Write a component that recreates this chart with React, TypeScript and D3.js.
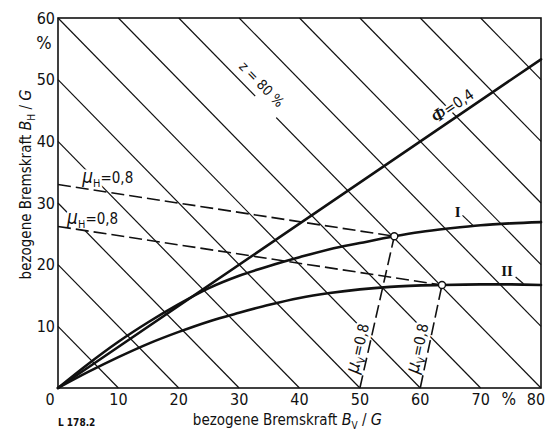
import React from 'react';
import * as d3 from 'd3';

const WIDTH = 550;
const HEIGHT = 432;
const M = { top: 18, right: 9, bottom: 44, left: 58 };

const FONT = '"Liberation Sans Narrow", "DejaVu Sans Condensed", "Roboto Condensed", "DejaVu Sans", sans-serif';
const SERIF = '"Liberation Serif", "DejaVu Serif", serif';

// axis ticks
const xTicks = [0, 10, 20, 30, 40, 50, 60, 70, 80];
const yTicks = [10, 20, 30, 40, 50, 60];
// lines of constant braking ratio z = (B_V + B_H) / G in %
const zLines = [10, 20, 30, 40, 50, 60, 70, 80, 90, 100, 110, 120, 130];

// installed distribution, Phi = 0.4
const phiX = [0, 80];
const phiY = [0, 53.3];

// ideal distribution, curve I
const curveIX = [0, 5, 10, 15, 20, 25, 30, 35, 40, 45, 50, 55.7, 60, 65, 70, 75, 80];
const curveIY = [0, 3.9, 7.5, 10.7, 13.6, 16.2, 18.2, 19.8, 21.2, 22.5, 23.5, 24.6, 25.3, 25.9, 26.4, 26.7, 26.9];
// ideal distribution, curve II
const curveIIX = [0, 5, 10, 15, 20, 25, 30, 35, 40, 45, 50, 55, 63.6, 70, 75, 80];
const curveIIY = [0, 2.6, 5.0, 7.2, 9.1, 10.8, 12.2, 13.5, 14.6, 15.4, 16.0, 16.4, 16.7, 16.8, 16.8, 16.7];

// mu = 0.8 construction
const muPointX = [55.7, 63.6];
const muPointY = [24.6, 16.7];
const muHStartY = [33.0, 26.2]; // where the mu_H lines leave the B_H axis
const muVStartX = [50, 60]; // where the mu_V lines leave the B_V axis

// label anchors (data units)
const muHLabelX = [4.0, 1.5];
const muHLabelY = [33.3, 26.6];
const romanLabels = ['I', 'II'];
const romanX = [65.7, 73.4];
const romanY = [27.7, 18.2];
const romanLeadFrom = [[67.0, 28.0], [75.8, 18.0]];
const romanLeadTo = [[68.9, 26.2], [77.1, 16.9]];

export default function App() {
  const x = d3.scaleLinear().domain([0, 80]).range([M.left, WIDTH - M.right]);
  const y = d3.scaleLinear().domain([0, 60]).range([HEIGHT - M.bottom, M.top]);
  const deg = (x1: number, y1: number, x2: number, y2: number) =>
    (Math.atan2(y(y2) - y(y1), x(x2) - x(x1)) * 180) / Math.PI;

  const line = d3
    .line<[number, number]>()
    .x((d) => x(d[0]))
    .y((d) => y(d[1]))
    .curve(d3.curveMonotoneX);
  const pathI = line(curveIX.map((v, i) => [v, curveIY[i]]));
  const pathII = line(curveIIX.map((v, i) => [v, curveIIY[i]]));
  const pathPhi = line(phiX.map((v, i) => [v, phiY[i]]));

  // z = const grid lines clipped to the frame
  const diag = zLines.map((c) => {
    const xa = Math.max(0, c - 60);
    const xb = Math.min(80, c);
    return { c, x1: x(xa), y1: y(c - xa), x2: x(xb), y2: y(c - xb) };
  });

  const phiAngle = deg(0, 0, phiX[1], phiY[1]);
  const zAngle = deg(20, 60, 80, 0);
  const zAnchorX = 32.2;
  const phiAnchorX = 63.2;

  const halo = { stroke: '#fff', strokeWidth: 5, paintOrder: 'stroke' as const, strokeLinejoin: 'round' as const };

  return (
    <svg width={WIDTH} height={HEIGHT} style={{ position: 'absolute', left: 0, top: 0, background: '#fff' }}>
      <rect width={WIDTH} height={HEIGHT} fill="#fff" />

      {/* z grid */}
      <g stroke="#111" strokeWidth={1.2}>
        {diag.map((d) => (
          <line key={d.c} x1={d.x1} y1={d.y1} x2={d.x2} y2={d.y2} />
        ))}
      </g>

      {/* labels on the grid, with white halo cutting the grid lines */}
      <g fontFamily={FONT} fill="#111">
        <g transform={`translate(${x(zAnchorX)},${y(80 - zAnchorX)}) rotate(${zAngle})`}>
          <rect x={4} y={-3} width={30} height={6} fill="#fff" />
          <text x={0} y={-8} fontSize={14} textAnchor="middle" {...halo}>
            z = 80 %
          </text>
        </g>
        {muHLabelX.map((lx, i) => (
          <text key={'mh' + i} x={x(lx)} y={y(muHLabelY[i])} fontSize={15} {...halo}>
            <tspan fontStyle="italic" fontSize={19}>μ</tspan>
            <tspan fontSize={11} dy={4}>H</tspan>
            <tspan dy={-4}>=0,8</tspan>
          </text>
        ))}
        {muVStartX.map((sx, i) => {
          const x0 = x(sx), y0 = y(0);
          const x1 = x(muPointX[i]), y1 = y(muPointY[i]);
          const len = Math.hypot(x1 - x0, y1 - y0);
          const ux = (x1 - x0) / len, uy = (y1 - y0) / len;
          const a = deg(sx, 0, muPointX[i], muPointY[i]);
          return (
            <text
              key={'mv' + i}
              transform={`translate(${x0 + ux * 13},${y0 + uy * 13}) rotate(${a})`}
              x={0}
              y={-5}
              fontSize={15}
              {...halo}
            >
              <tspan fontStyle="italic" fontSize={19}>μ</tspan>
              <tspan fontSize={11} dy={4}>V</tspan>
              <tspan dy={-4}>=0,8</tspan>
            </text>
          );
        })}
        <text
          transform={`translate(${x(phiAnchorX)},${y((phiAnchorX * phiY[1]) / phiX[1])}) rotate(${phiAngle})`}
          x={0}
          y={-6}
          fontSize={15}
          {...halo}
        >
          <tspan fontStyle="italic" fontWeight="bold" fontFamily={SERIF} fontSize={18}>Φ</tspan>
          <tspan>=0,4</tspan>
        </text>
        {romanLabels.map((t, i) => (
          <g key={t}>
            <text x={x(romanX[i])} y={y(romanY[i])} fontFamily={SERIF} fontSize={15} fontWeight="bold" {...halo}>
              {t}
            </text>
            <line
              x1={x(romanLeadFrom[i][0])}
              y1={y(romanLeadFrom[i][1])}
              x2={x(romanLeadTo[i][0])}
              y2={y(romanLeadTo[i][1])}
              stroke="#111"
              strokeWidth={1.2}
            />
          </g>
        ))}
      </g>

      {/* dashed mu = 0.8 construction */}
      <g stroke="#111" strokeWidth={1.6} strokeDasharray="13,5" fill="none">
        {muPointX.map((px, i) => (
          <g key={'d' + i}>
            <line x1={x(0)} y1={y(muHStartY[i])} x2={x(px)} y2={y(muPointY[i])} />
            <line x1={x(muVStartX[i])} y1={y(0)} x2={x(px)} y2={y(muPointY[i])} />
          </g>
        ))}
      </g>

      {/* curves */}
      <g fill="none" stroke="#111" strokeWidth={2.6} strokeLinecap="round">
        <path d={pathPhi ?? ''} />
        <path d={pathI ?? ''} />
        <path d={pathII ?? ''} />
      </g>

      {muPointX.map((px, i) => (
        <circle key={'c' + i} cx={x(px)} cy={y(muPointY[i])} r={3.5} fill="#fff" stroke="#111" strokeWidth={1.4} />
      ))}

      {/* frame */}
      <rect
        x={x(0)}
        y={y(60)}
        width={x(80) - x(0)}
        height={y(0) - y(60)}
        fill="none"
        stroke="#111"
        strokeWidth={1.6}
      />

      {/* tick labels */}
      <g fontFamily={FONT} fontSize={16} fill="#111">
        {yTicks.map((t) => (
          <text key={'y' + t} x={x(0) - 3} y={y(t)} dy="0.36em" textAnchor="end">
            {t}
          </text>
        ))}
        <text x={x(0) - 14} y={y(60) + 31} textAnchor="middle" fontSize={18}>
          %
        </text>
        {xTicks.map((t) => (
          <text
            key={'x' + t}
            x={x(t) + (t === 0 ? -8 : t === 80 ? -5 : 0)}
            y={y(0) + 17}
            textAnchor="middle"
          >
            {t}
          </text>
        ))}
        <text x={(x(70) + x(80)) / 2 - 2} y={y(0) + 17} textAnchor="middle" fontSize={17}>
          %
        </text>
      </g>

      {/* axis titles */}
      <g fontFamily={FONT} fontSize={15} fill="#111">
        <text x={x(38)} y={y(0) + 37} textAnchor="middle">
          bezogene Bremskraft{' '}
          <tspan fontStyle="italic" fontSize={16}>B</tspan>
          <tspan fontSize={10} dy={4}>V</tspan>
          <tspan dy={-4}> / </tspan>
          <tspan fontStyle="italic" fontSize={16}>G</tspan>
        </text>
        <text transform={`translate(${x(0) - 27},${y(33)}) rotate(-90)`} textAnchor="middle">
          bezogene Bremskraft{' '}
          <tspan fontStyle="italic" fontSize={16}>B</tspan>
          <tspan fontSize={10} dy={4}>H</tspan>
          <tspan dy={-4}> / </tspan>
          <tspan fontStyle="italic" fontSize={16}>G</tspan>
        </text>
        <text x={x(0)} y={y(0) + 38} fontSize={10} fontWeight="bold">
          L 178.2
        </text>
      </g>
    </svg>
  );
}
